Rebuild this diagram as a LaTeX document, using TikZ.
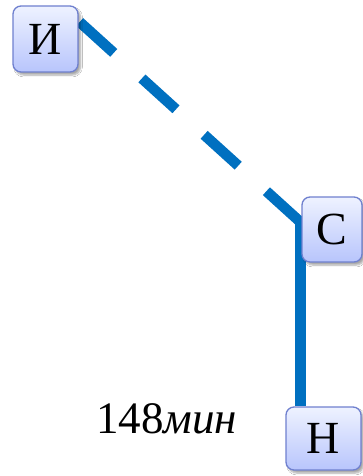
\documentclass[tikz,border=0pt]{standalone}
\usepackage{fontspec}
\setmainfont{Liberation Serif}
\usetikzlibrary{calc,backgrounds,shadows.blur}
\definecolor{linkblue}{HTML}{0070C0}
\definecolor{boxtop}{HTML}{EEF2FF}
\definecolor{boxbot}{HTML}{B8C5FC}
\definecolor{boxedge}{HTML}{6F80CF}
\tikzset{
  nodebox/.style={draw=boxedge, line width=1.3pt, rounded corners=8pt,
    top color=boxtop, bottom color=boxbot, inner sep=0pt,
    font=\fontsize{46}{50}\selectfont,
    blur shadow={shadow xshift=2.5pt, shadow yshift=-3pt, shadow blur steps=6, shadow opacity=35}},
  link/.style={draw=linkblue, line width=10.5pt},
  dashlink/.style={link, dash pattern=on 46pt off 38pt},
  lbl/.style={inner sep=0pt, font=\fontsize{45}{48}\selectfont}
}
\begin{document}
\begin{tikzpicture}[x=1pt,y=-1pt]
\useasboundingbox (0,0) rectangle (363,476);
\node[nodebox, minimum width=65pt, minimum height=66pt] (I) at (45.5,39) {И};
\node[nodebox, minimum width=60pt, minimum height=65pt] (C) at (332,229.5) {С};
\node[nodebox, minimum width=75pt, minimum height=63pt] (N) at (323.5,438.5) {Н};
\node[lbl, anchor=base west] (t) at (96,433) {148\textit{мин}};
\begin{scope}[on background layer]
  \fill[white] (0,0) rectangle (363,476);
  \draw[dashlink] ($(I.east)+(1,-17)$) -- ($(C.west)+(-1,-7.5)$);
  \draw[link] ($(C.west)+(-1,-13)$) -- ($(N.north west)+(15,0)$);
\end{scope}
\end{tikzpicture}
\end{document}
